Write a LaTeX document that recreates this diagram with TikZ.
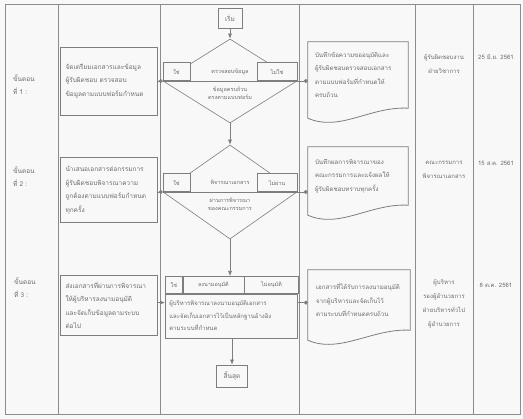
\documentclass[tikz,border=0pt]{standalone}
\usepackage{fontspec}
\usepackage{xcolor}
\usepackage{tikz}
\newfontfamily\thaifont[Script=Thai]{Loma}
\usetikzlibrary{shapes,arrows,positioning,calc,arrows.meta}
\definecolor{scanline}{HTML}{7E7E7E}
\definecolor{scanframe}{HTML}{8C8C8C}
\definecolor{scantext}{HTML}{6C6C6C}
\definecolor{scanpaper}{HTML}{F8F8F8}

\begin{document}
\begin{tikzpicture}[x=1pt, y=-1pt,
    every node/.style={text=scantext, font=\thaifont\fontsize{7}{13}\selectfont},
    line/.style={draw=scanline, line width=0.6pt},
    frame/.style={draw=scanframe, line width=0.9pt},
    steplabel/.style={anchor=north west, align=left, inner sep=0pt, font=\thaifont\fontsize{6.5}{13}\selectfont},
    stepbox/.style={line, line width=0.9pt, fill=scanpaper, minimum width=97, text width=86, inner sep=5.5, align=left, font=\thaifont\fontsize{6.5}{13.5}\selectfont},
    flowbox/.style={line, fill=scanpaper, inner sep=1pt, font=\thaifont\fontsize{6.5}{8}\selectfont},
    decision/.style={line, diamond, inner sep=0pt, minimum width=134},
    sidebox/.style={line, fill=scanpaper, minimum height=18, inner sep=1pt, font=\thaifont\fontsize{5.5}{7}\selectfont},
    cellbox/.style={line, fill=scanpaper, minimum height=17, inner sep=1pt, font=\thaifont\fontsize{5.5}{7}\selectfont},
    smalltext/.style={align=center, inner sep=0pt, font=\thaifont\fontsize{5.5}{8}\selectfont},
    docbox/.style={minimum width=100, text width=86, inner sep=7, align=left, font=\thaifont\fontsize{6.2}{13.5}\selectfont},
    infotext/.style={align=center, inner sep=0pt, font=\thaifont\fontsize{6}{14}\selectfont},
    dot/.style={line, -{Circle[length=4pt]}},
    flow/.style={line, -{Latex[length=5pt,width=4pt]}}
]
    \fill[scanpaper] (0,0) rectangle (523,419);

    % Table frame
    \draw[frame] (5,4) rectangle (520,414);
    \foreach \x in {58,160,299,415,473} {
        \draw[frame] (\x,4) -- (\x,414);
    }

    % Steps
    \node[steplabel] (lab1) at (13,74) {ขั้นตอน\\ที่ 1 :};
    \node[steplabel] (lab2) at (13,166) {ขั้นตอน\\ที่ 2 :};
    \node[steplabel] (lab3) at (14,277) {ขั้นตอน\\ที่ 3 :};

    \node[stepbox, minimum height=68] (box1) at (108.5,81)
        {จัดเตรียมเอกสารและข้อมูล\\ผู้รับผิดชอบ ตรวจสอบ\\ข้อมูลตามแบบฟอร์มกำหนด};
    \node[stepbox, minimum height=65] (box2) at (108.5,190)
        {นำเสนอเอกสารต่อกรรมการ\\ผู้รับผิดชอบพิจารณาความ\\ถูกต้องตามแบบฟอร์มกำหนด\\ทุกครั้ง};
    \node[stepbox, minimum height=60] (box3) at (108.5,305)
        {ส่งเอกสารที่ผ่านการพิจารณา\\ให้ผู้บริหารลงนามอนุมัติ\\และจัดเก็บข้อมูลตามระบบ\\ต่อไป};

    % Flow
    \node[flowbox, minimum width=24, minimum height=20] (start) at (230,18) {เริ่ม};

    \node[decision, minimum height=84] (dec1) at (230,81) {};
    \node[sidebox, anchor=south west, minimum width=27] (yes1) at (dec1.west) {ใช่};
    \node[sidebox, anchor=south east, minimum width=40] (no1) at (dec1.east) {ไม่ใช่};
    \draw[line] (dec1.west) -- (dec1.east);
    \node[smalltext] (ask1) at (230,72) {ตรวจสอบข้อมูล};
    \node[smalltext] (cond1) at (230,93) {ข้อมูลครบถ้วน\\ตรงตามแบบฟอร์ม};

    \node[decision, minimum height=94] (dec2) at (230,192) {};
    \node[sidebox, anchor=south west, minimum width=27] (yes2) at (dec2.west) {ใช่};
    \node[sidebox, anchor=south east, minimum width=40] (no2) at (dec2.east) {ไม่ผ่าน};
    \draw[line] (dec2.west) -- (dec2.east);
    \node[smalltext] (ask2) at (230,182) {พิจารณาเอกสาร};
    \node[smalltext] (cond2) at (230,204) {ผ่านการพิจารณา\\ของคณะกรรมการ};

    \node[cellbox, anchor=north west, minimum width=17] (h1) at (165,276) {ใช่};
    \node[cellbox, minimum width=61, right=0pt of h1] (h2) {ลงนามอนุมัติ};
    \node[cellbox, minimum width=54, right=0pt of h2] (h3) {ไม่อนุมัติ};
    \node[cellbox, anchor=north west, minimum width=132, minimum height=44, text width=124, align=left,
          font=\thaifont\fontsize{6}{12.5}\selectfont] (body) at (h1.south west)
        {ผู้บริหารพิจารณาลงนามอนุมัติเอกสาร\\และจัดเก็บเอกสารไว้เป็นหลักฐานอ้างอิง\\ตามระบบที่กำหนด};

    \node[flowbox, minimum width=31, minimum height=22] (finish) at (232,376) {สิ้นสุด};

    \draw[flow] (start) -- (dec1);
    \draw[flow] (dec1) -- (dec2);
    \draw[flow] (dec2.south) -- (dec2.south |- h1.north);
    \draw[flow] (finish.north |- body.south) -- (finish);

    % Documents
    \node[docbox, minimum height=66] (doc1) at (358,75)
        {บันทึกข้อความขออนุมัติและ\\ผู้รับผิดชอบตรวจสอบเอกสาร\\ตามแบบฟอร์มที่กำหนดให้\\ครบถ้วน};
    \node[docbox, minimum height=58] (doc2) at (358,176)
        {บันทึกผลการพิจารณาของ\\คณะกรรมการและแจ้งผลให้\\ผู้รับผิดชอบทราบทุกครั้ง};
    \node[docbox, minimum height=60, minimum width=102] (doc3) at (359,300)
        {เอกสารที่ได้รับการลงนามอนุมัติ\\จากผู้บริหารและจัดเก็บไว้\\ตามระบบที่กำหนดครบถ้วน};
    \foreach \d in {doc1,doc2,doc3} {
        \draw[line, line width=0.8pt] (\d.south west) -- (\d.north west) -- (\d.north east) -- (\d.south east)
            .. controls ($(\d.south east)+(-38,-2)$) and ($(\d.south west)+(32,24)$) .. ($(\d.south west)+(0,10)$) -- cycle;
    }

    % Connectors
    \draw[dot] (box1.east) -- (dec1.west);
    \draw[dot] (dec1.east) -- (dec1.east -| doc1.west);
    \draw[dot] (box2.east |- dec2.west) -- (dec2.west);
    \draw[dot] (dec2.east) -- (dec2.east -| doc2.west);
    \coordinate (in3) at ($(body.north west)+(0,9)$);
    \draw[flow] (box3.east |- in3) -- (in3);
    \draw[dot] (in3 -| body.east) -- (in3 -| doc3.west);

    % Responsible and date
    \node[infotext] (who1) at (444,64) {ผู้รับผิดชอบงาน\\ฝ่ายวิชาการ};
    \node[infotext] (who2) at (444,170) {คณะกรรมการ\\พิจารณาเอกสาร};
    \node[infotext] (who3) at (444,304) {ผู้บริหาร\\รองผู้อำนวยการ\\ฝ่ายบริหารทั่วไป\\ผู้อำนวยการ};
    \node[infotext] (date1) at (496,57) {25 มิ.ย. 2561};
    \node[infotext] (date2) at (496,163) {15 ส.ค. 2561};
    \node[infotext] (date3) at (496,285) {8 ต.ค. 2561};
\end{tikzpicture}
\end{document}
